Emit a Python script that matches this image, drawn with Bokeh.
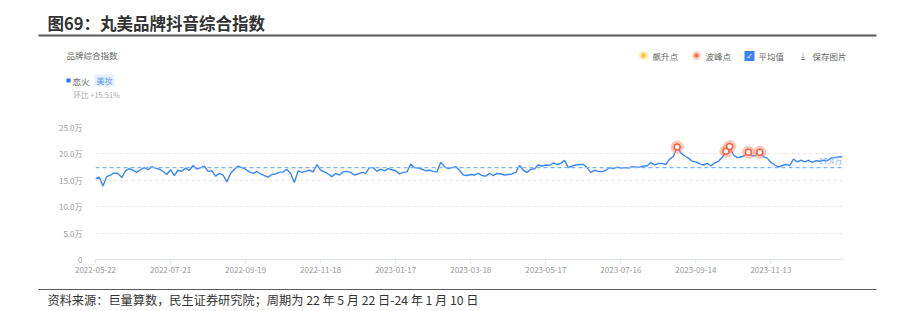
import pandas as pd
from bokeh.plotting import figure
from bokeh.layouts import column
from bokeh.core.properties import value
from bokeh.models import (FixedTicker, CustomJSTickFormatter, DatetimeTickFormatter,
                          Label, Span, ColumnDataSource, Range1d)
from bokeh.embed import file_html
from bokeh.resources import INLINE

# ---------------- data ----------------
start_date = "2022-05-22"
end_date = "2024-01-10"
step_days = 3
index_values = [  # 品牌综合指数, 单位: 万
    15.3, 15.6, 13.9, 15.7, 16.0, 16.4, 16.3, 15.5, 16.8, 17.2,
    16.9, 16.5, 17.0, 17.4, 17.0, 17.6, 17.3, 17.1, 16.7, 16.1,
    17.0, 15.9, 16.9, 16.7, 17.3, 16.9, 17.8, 17.1, 17.4, 17.7,
    16.7, 16.8, 15.8, 16.3,
    16.0, 14.7, 16.3, 17.1, 17.7, 17.4, 17.1, 16.6, 16.3, 16.7,
    16.2, 15.9, 15.6, 16.1, 16.2, 16.5, 16.6, 17.1, 16.3, 14.6,
    16.8, 16.5, 16.7, 16.9, 16.6, 18.0, 16.9, 16.6, 16.2, 15.7,
    16.3, 16.0, 16.6,
    16.7, 16.5, 16.0, 16.2, 16.5, 16.3, 17.4, 17.4, 16.7, 17.1,
    16.8, 17.2, 17.0, 16.8, 16.2, 16.5, 16.6, 18.1, 17.4, 17.3,
    17.1, 16.8, 16.9, 16.7, 16.6, 18.4, 17.6, 17.2, 17.4, 17.6,
    16.9, 16.0, 15.9,
    16.1, 16.0, 16.3, 15.9, 15.8, 16.3, 15.9, 16.3, 16.2, 16.0,
    16.1, 16.2, 16.5, 17.8, 16.9, 16.5, 17.1, 17.2, 17.9, 17.7,
    17.9, 17.8, 18.3, 18.0, 18.2, 18.8, 17.4, 17.7, 17.9, 18.0,
    18.0, 17.4, 16.5, 16.9,
    16.7, 16.6, 16.9, 17.4, 17.2, 17.5, 17.3, 17.4, 17.3, 17.6,
    17.5, 17.5, 17.7, 17.7, 18.4, 17.9, 18.2,
    18.2, 18.0, 19.0, 19.5, 21.3, 20.2, 19.6, 19.2, 18.6, 18.5,
    18.1, 17.9, 18.2, 17.7, 18.3, 18.6, 19.3, 20.5, 21.4, 19.8,
    19.3, 19.4, 19.7, 20.3, 19.6, 19.7, 20.3, 19.5, 19.2, 18.4,
    17.9, 17.5, 17.8, 18.0, 17.8, 19.0, 18.5, 18.8, 18.5, 18.8,
    18.4, 18.7, 18.6, 18.8, 18.7, 19.2, 19.3, 19.4, 19.5,
]
avg_value = 17.4
avg_label = "17.4万"
peak_dates = ["2023-08-30", "2023-10-08", "2023-10-11", "2023-10-26", "2023-11-04"]
x_tick_dates = ["2022-05-22", "2022-07-21", "2022-09-19", "2022-11-18", "2023-01-17",
                "2023-03-18", "2023-05-17", "2023-07-16", "2023-09-14", "2023-11-13"]
y_ticks = [0, 5, 10, 15, 20, 25]

title_text = "图69：丸美品牌抖音综合指数"
source_text = "资料来源：巨量算数，民生证券研究院；周期为 22 年 5 月 22 日-24 年 1 月 10 日"
panel_title = "品牌综合指数"
series_name = "恋火"
tag_text = "美妆"
change_text = "环比 +15.51%"
legend_items = ["飙升点", "波峰点", "平均值", "保存图片"]

# ---------------- build ----------------
dates = pd.date_range(start_date, periods=len(index_values), freq=f"{step_days}D")
df = pd.DataFrame({"date": dates, "value": index_values})
src = ColumnDataSource(df)
pk = df[df["date"].isin(pd.to_datetime(peak_dates))]
pk_src = ColumnDataSource(pk)

W = 898
HEAD_H, MAIN_H, FOOT_H = 105, 175, 31
FT, FB = 127, 259          # frame top / bottom in page pixels
FL, FR = 95, 843           # frame left / right in page pixels
FONT = "Noto Sans CJK SC"


def blank(height):
    f = figure(width=W, height=height, output_backend="svg", toolbar_location=None,
               x_range=Range1d(0, W), y_range=Range1d(height, 0),
               min_border=0, x_axis_location=None, y_axis_location=None,
               background_fill_color="white", border_fill_color="white",
               frame_align=False)
    f.outline_line_color = None
    f.grid.visible = False
    return f


def txt(f, X, Y, text, size, color, align="left", bold=False, font=FONT):
    f.text(x=[X], y=[Y], text=[text], text_align=align, text_baseline="middle",
           text_font=value(font), text_font_size=value(f"{size}px"), text_color=color,
           text_font_style="bold" if bold else "normal")


def rect(f, X0, X1, Y0, Y1, color):
    f.quad(left=[X0], right=[X1], top=[Y0], bottom=[Y1], fill_color=color,
           line_color=None)


# ---------------- header ----------------
hd = blank(HEAD_H)
txt(hd, 47, 22, title_text, 16.5, "#333333", bold=True)
rect(hd, 38, 876, 34, 36, "#5a5a5a")
txt(hd, 66, 54, panel_title, 8.5, "#666666")
rect(hd, 66, 70, 78, 82, "#2f6bff")
txt(hd, 72, 80, series_name, 8.5, "#555555")
rect(hd, 94, 114, 74, 86, "#e6f0ff")
txt(hd, 104, 80, tag_text, 8, "#5b9bff", align="center")
txt(hd, 73, 94, change_text, 7.5, "#aaaaaa")
# legend
hd.scatter(x=[643, 696], y=[55, 55], size=9, fill_color=["#ffe9b8", "#ffd6c8"], line_color=None)
hd.scatter(x=[643, 696], y=[55, 55], size=4.5, fill_color=["#ffc53d", "#ff7043"], line_color=None)
txt(hd, 652, 55, legend_items[0], 8.5, "#666666")
txt(hd, 705, 55, legend_items[1], 8.5, "#666666")
rect(hd, 744, 754, 50.5, 60.5, "#3b82f6")
txt(hd, 749, 55.5, "✓", 8, "#ffffff", align="center", font="DejaVu Sans")
txt(hd, 758, 55, legend_items[2], 8.5, "#666666")
txt(hd, 802, 55, "⤓", 9, "#777777", align="center", font="DejaVu Sans")
txt(hd, 812, 55, legend_items[3], 8.5, "#666666")

# ---------------- main chart ----------------
p = figure(width=W, height=MAIN_H, output_backend="svg", toolbar_location=None,
           x_axis_type="datetime",
           x_range=Range1d(pd.Timestamp(start_date), pd.Timestamp(end_date)),
           y_range=Range1d(min(y_ticks), max(y_ticks)),
           min_border_left=FL, min_border_right=W - FR,
           min_border_top=FT - HEAD_H, min_border_bottom=HEAD_H + MAIN_H - FB,
           background_fill_color="white", border_fill_color="white",
           frame_align=False)
p.outline_line_color = None

xa = p.xaxis[0]
xa.ticker = FixedTicker(ticks=[pd.Timestamp(d).timestamp() * 1000 for d in x_tick_dates])
fmt = "%Y-%m-%d"
xa.formatter = DatetimeTickFormatter(days=fmt, months=fmt, years=fmt, hours=fmt,
                                     minutes=fmt, seconds=fmt, milliseconds=fmt,
                                     microseconds=fmt, minsec=fmt, hourmin=fmt)
xa.axis_line_color = "#dfe5ee"
xa.major_tick_line_color = "#dfe5ee"
xa.major_tick_out = 4
xa.major_tick_in = 0
xa.minor_tick_line_color = None
xa.major_label_text_font = FONT
xa.major_label_text_font_size = "8px"
xa.major_label_text_color = "#9a9a9a"
xa.major_label_standoff = 3

ya = p.yaxis[0]
ya.ticker = FixedTicker(ticks=y_ticks)
ya.formatter = CustomJSTickFormatter(code="return tick == 0 ? '0' : tick.toFixed(1) + '万';")
ya.axis_line_color = None
ya.major_tick_line_color = None
ya.minor_tick_line_color = None
ya.major_label_text_font = FONT
ya.major_label_text_font_size = "8px"
ya.major_label_text_color = "#9a9a9a"
ya.major_label_standoff = 7

p.xgrid.grid_line_color = None
p.ygrid.grid_line_color = "#e4e4e4"
p.ygrid.grid_line_dash = "3 3"

p.add_layout(Span(location=avg_value, dimension="width", line_color="#7fb0ff",
                  line_dash="4 3", line_width=1.2))

p.line(x="date", y="value", source=src, line_color="#3b87f7", line_width=1.4)

p.scatter(x="date", y="value", source=pk_src, size=13, fill_color="#ff8a66",
          fill_alpha=0.45, line_color=None)
p.scatter(x="date", y="value", source=pk_src, size=6, fill_color="white",
          line_color="#ff6040", line_width=1.6)

p.add_layout(Label(x=df["date"].iloc[-1], y=avg_value, text=avg_label,
                   text_align="right", text_baseline="bottom", y_offset=2,
                   text_font=FONT, text_font_size="8px", text_color="#8cb6f5"))

# ---------------- footer ----------------
ft = blank(FOOT_H)
rect(ft, 38, 876, 8.5, 9.5, "#5a5a5a")
txt(ft, 47, 19, source_text, 12.2, "#333333")

layout = column(hd, p, ft, spacing=0)
open("out.html", "w").write(file_html(layout, INLINE))
